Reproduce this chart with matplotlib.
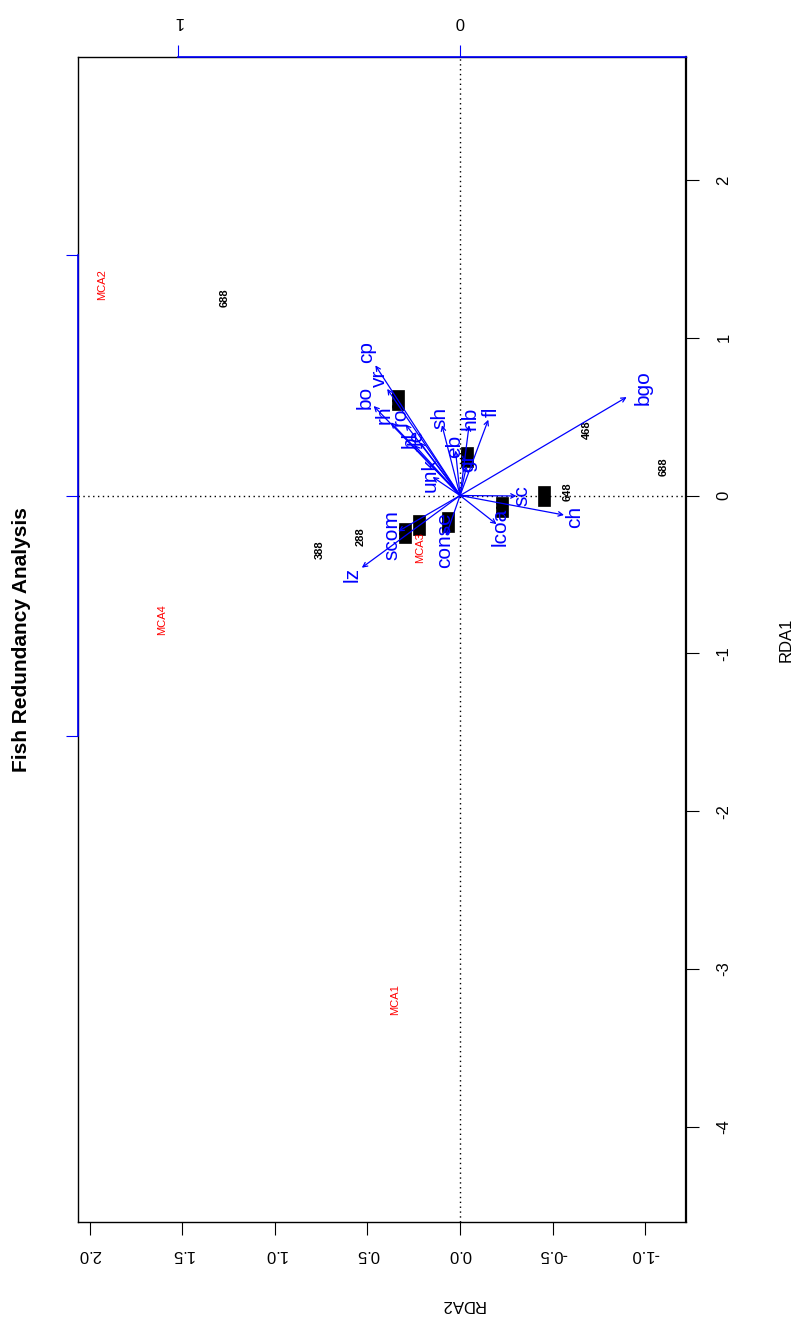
import matplotlib
matplotlib.use("Agg")
import matplotlib.pyplot as plt

plt.rcParams['font.family'] = ['Liberation Sans', 'DejaVu Sans']
plt.rcParams['axes.unicode_minus'] = False

# site scores (RDA1, RDA2) and how many sites are stacked at each spot
site_lab = ["688", "388", "288", "648", "648", "648", "648", "468", "648", "648", "648", "468", "688"]
site_rda1 = [1.252, -0.345, -0.263, 0.605, -0.238, -0.187, -0.168, 0.244, -0.073, -0.003, 0.022, 0.415, 0.181]
site_rda2 = [1.269, 0.756, 0.535, 0.335, 0.297, 0.221, 0.065, -0.038, -0.227, -0.454, -0.583, -0.686, -1.101]
site_n = [1, 1, 1, 6, 5, 5, 5, 5, 5, 8, 1, 1, 1]

# species scores (biplot arrows), in the secondary (blue axis) units
sp_lab = ["bgo", "cp", "vr", "bo", "rh", "ro", "bl", "le", "unk", "sh", "eb", "hb", "fl", "gr",
          "lz", "scom", "conse", "lcoa", "sc", "ch"]
sp_rda1 = [0.409, 0.541, 0.443, 0.372, 0.304, 0.296, 0.209, 0.221, 0.077, 0.292, 0.187, 0.292, 0.315, 0.123,
           -0.300, -0.149, -0.168, -0.119, -0.002, -0.081]
sp_rda2 = [-0.590, 0.300, 0.258, 0.306, 0.245, 0.193, 0.161, 0.142, 0.097, 0.064, 0.016, -0.032, -0.100, -0.023,
           0.348, 0.219, 0.050, -0.129, -0.200, -0.368]

# MCA centroids
mca_lab = ["MCA1", "MCA2", "MCA3", "MCA4"]
mca_rda1 = [-3.197, 1.334, -0.333, -0.789]
mca_rda2 = [0.351, 1.933, 0.216, 1.609]

K = 1.525  # ratio between main and species axes

W, H = 797, 1319
fig = plt.figure(figsize=(W / 100, H / 100), dpi=100)
ax = fig.add_axes([78 / W, 1 - 1222 / H, 608 / W, (1222 - 57) / H])
ax.set_xlim(2.063, -1.220)
ax.set_ylim(-4.604, 2.779)

for s in ax.spines.values():
    s.set_linewidth(1)
ax.spines['right'].set_linewidth(1.6)

ax.set_xticks([2.0, 1.5, 1.0, 0.5, 0.0, -0.5, -1.0])
ax.set_xticklabels(["%.1f" % v for v in [2.0, 1.5, 1.0, 0.5, 0.0, -0.5, -1.0]])
ax.tick_params(axis='x', direction='out', length=9, pad=9, labelsize=12, labelrotation=180)
ax.yaxis.tick_right()
ax.set_yticks([2, 1, 0, -1, -2, -3, -4])
ax.tick_params(axis='y', direction='out', length=9, pad=13, labelsize=12, labelrotation=90)
for t in ax.get_yticklabels():
    t.set_va('center')

# blue species axes
top = ax.secondary_xaxis('top', functions=(lambda v: v / K, lambda v: v * K))
top.set_xticks([1, 0])
top.tick_params(colors='blue', labelcolor='black', length=9, pad=11, labelsize=12, labelrotation=180)
top.spines['top'].set_visible(False)
left = ax.secondary_yaxis('left', functions=(lambda v: v / K, lambda v: v * K))
left.set_yticks([-1, 0, 1])
left.set_yticklabels([])
left.tick_params(colors='blue', length=9)
left.spines['left'].set_visible(False)
ax.plot([K, -1.220], [1, 1], color='blue', lw=1.2, transform=ax.get_xaxis_transform(),
        clip_on=False, zorder=5)
ax.plot([0, 0], [-K, K], color='blue', lw=1.2, transform=ax.get_yaxis_transform(),
        clip_on=False, zorder=5)

ax.axhline(0, color='black', lw=1, ls=(0, (1, 2.5)))
ax.axvline(0, color='black', lw=1, ls=(0, (1, 2.5)))

# sites (stacked labels show up as black blocks)
for lab, y, x, n in zip(site_lab, site_rda1, site_rda2, site_n):
    box = dict(boxstyle='square,pad=0.08', fc='black', ec='black', lw=0.5) if n > 1 else None
    ax.text(x, y, lab, fontsize=8, fontweight='bold', rotation=90, ha='center', va='center',
            color='black', bbox=box)

# species arrows
for lab, y, x in zip(sp_lab, sp_rda1, sp_rda2):
    ax.annotate("", xy=(x * K, y * K), xytext=(0, 0),
                arrowprops=dict(arrowstyle='->', color='blue', lw=0.9, shrinkA=0, shrinkB=0,
                                mutation_scale=8))
    ax.text(x * K * 1.1, y * K * 1.1, lab, color='blue', fontsize=15, rotation=90,
            ha='center', va='center')

for lab, y, x in zip(mca_lab, mca_rda1, mca_rda2):
    ax.text(x, y, lab, color='red', fontsize=8, rotation=90, ha='center', va='center')

fig.text(22 / W, 1 - 640 / H, "Fish Redundancy Analysis", rotation=90, fontsize=15,
         fontweight='bold', ha='center', va='center')
fig.text(786 / W, 1 - 640 / H, "RDA1", rotation=90, fontsize=12, ha='center', va='center')
fig.text(462 / W, 1 - 1305 / H, "RDA2", rotation=180, fontsize=12, ha='center', va='center')

fig.savefig("out.png", dpi=100)
